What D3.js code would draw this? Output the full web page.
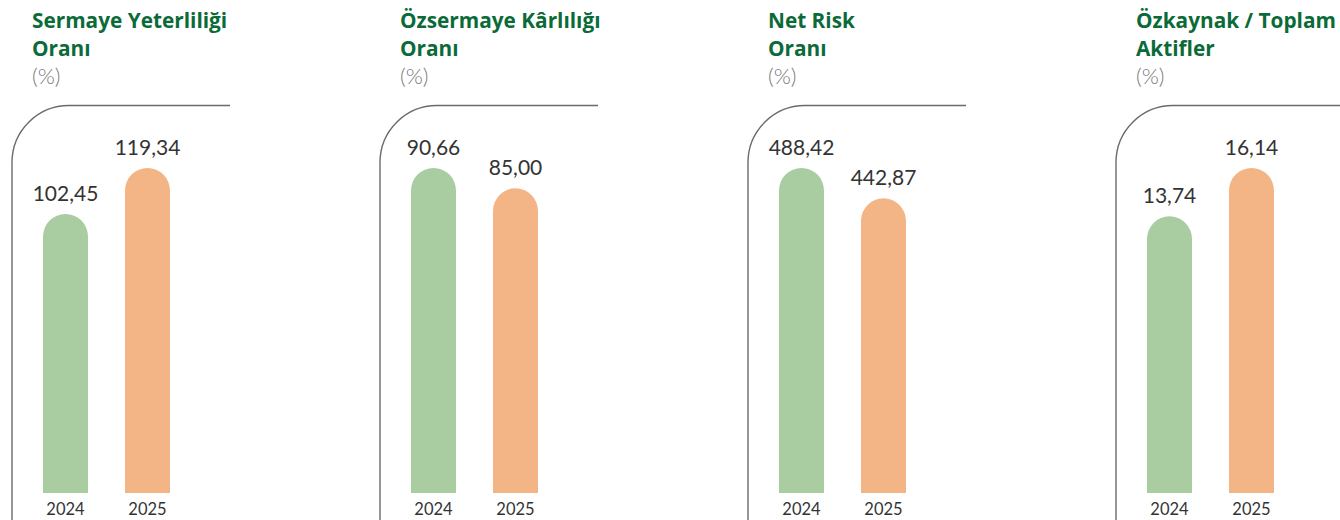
<!DOCTYPE html>
<html>
<head>
<meta charset="utf-8">
<script src="https://cdn.jsdelivr.net/npm/d3@7"></script>
<style>
  html,body{margin:0;padding:0;background:#fff;}
  svg{display:block;}
</style>
</head>
<body>
<svg id="chart"></svg>
<script>
// ---------- DATA ---------------------------------------------------------
const years   = ['2024', '2025'];
const titles  = [['Sermaye Yeterliliği', 'Oranı'],
                 ['Özsermaye Kârlılığı', 'Oranı'],
                 ['Net Risk', 'Oranı'],
                 ['Özkaynak / Toplam', 'Aktifler']];
const unit    = '(%)';
const values  = [[102.45, 119.34],
                 [90.66, 85.00],
                 [488.42, 442.87],
                 [13.74, 16.14]];

// ---------- LAYOUT -------------------------------------------------------
const W = 1340, H = 520;
const PANEL_X = 12, PANEL_STEP = 368;
const FRAME_TOP = 105.5, FRAME_R = 57, FRAME_W = 218;
const BAR_W = 45, BAR_BOTTOM = 493, BAR_TOP = 168;
const COLORS = {bars:['#a9cca1','#f3b586'], title:'#0b6b38', frame:'#6b6b6b', label:'#333', unit:'#7a7a7a'};
const fmt = v => v.toFixed(2).replace('.', ',');

const svg = d3.select('#chart').attr('width', W).attr('height', H);

titles.forEach((t, i) => {
  const x0 = PANEL_X + i*PANEL_STEP;
  const g = svg.append('g').attr('transform', `translate(${x0},0)`);

  // title
  const title = g.append('text')
    .attr('font-family', '"Open Sans", sans-serif').attr('font-weight', 700)
    .attr('font-size', 20.8).attr('fill', COLORS.title);
  t.forEach((line, k) => title.append('tspan').attr('x', 20).attr('y', 28 + k*27.5).text(line));
  g.append('text').attr('x', 20).attr('y', 84)
    .attr('font-family', 'Lato, sans-serif').attr('font-weight', 300)
    .attr('font-size', 22).attr('fill', COLORS.unit).text(unit);

  // frame: vertical left line + rounded corner + top line
  const right = i === titles.length-1 ? W - x0 : FRAME_W;
  const p = d3.path();
  p.moveTo(0, H + 5);
  p.lineTo(0, FRAME_TOP + FRAME_R);
  p.arcTo(0, FRAME_TOP, FRAME_R, FRAME_TOP, FRAME_R);
  p.lineTo(right, FRAME_TOP);
  g.append('path').attr('d', p.toString()).attr('fill', 'none')
    .attr('stroke', COLORS.frame).attr('stroke-width', 1.4);

  // scales
  const x = d3.scalePoint().domain(years).range([53.5, 135.5]);
  const y = d3.scaleLinear().domain([0, d3.max(values[i])]).range([BAR_BOTTOM, BAR_TOP]);
  const r = BAR_W/2;

  const data = years.map((yr, j) => ({yr, v: values[i][j], c: COLORS.bars[j]}));

  g.selectAll('path.bar').data(data).enter().append('path')
    .attr('class', 'bar')
    .attr('fill', d => d.c)
    .attr('d', d => {
      const cx = x(d.yr), top = y(d.v), bq = d3.path();
      bq.moveTo(cx - r, BAR_BOTTOM);
      bq.lineTo(cx - r, top + r);
      bq.arc(cx, top + r, r, Math.PI, 2*Math.PI);
      bq.lineTo(cx + r, BAR_BOTTOM);
      bq.closePath();
      return bq.toString();
    });

  g.selectAll('text.val').data(data).enter().append('text')
    .attr('class', 'val')
    .attr('x', d => x(d.yr)).attr('y', d => y(d.v) - 13)
    .attr('text-anchor', 'middle')
    .attr('font-family', 'Lato, sans-serif').attr('font-size', 21)
    .attr('fill', COLORS.label).text(d => fmt(d.v));

  g.selectAll('text.yr').data(data).enter().append('text')
    .attr('class', 'yr')
    .attr('x', d => x(d.yr)).attr('y', 515)
    .attr('text-anchor', 'middle')
    .attr('font-family', 'Lato, sans-serif').attr('font-size', 16.5)
    .attr('fill', COLORS.label).text(d => d.yr);
});
</script>
</body>
</html>
